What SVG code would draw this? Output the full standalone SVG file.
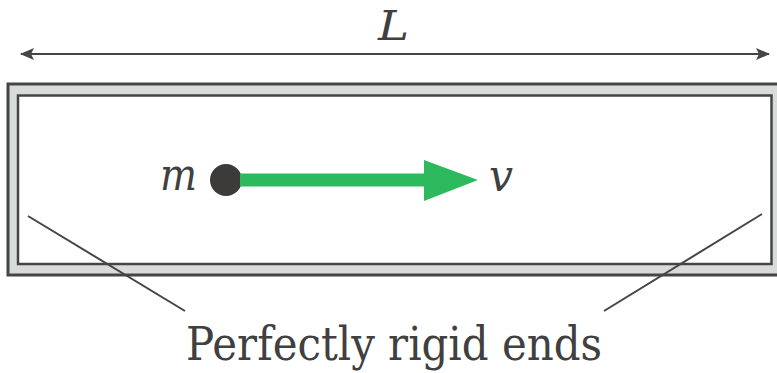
<svg xmlns="http://www.w3.org/2000/svg" width="777" height="373" viewBox="0 0 777 373">
<style>
.ln{stroke:#454545;fill:none}
.tx{font-family:'DejaVu Serif',serif;fill:#404040}
.it{font-style:italic}
</style>
<defs>
<marker id="ah" viewBox="0 0 14 12" refX="13" refY="6" markerWidth="14" markerHeight="12" markerUnits="userSpaceOnUse" orient="auto-start-reverse">
<path d="M0,0 L14,6 L0,12 L3,6 Z" fill="#454545"/>
</marker>
</defs>
<rect width="777" height="373" fill="#fff"/>
<g id="container">
<rect x="8" y="84" width="775" height="191" fill="#d9dada" stroke="#454545" stroke-width="3"/>
<rect x="18" y="95.5" width="753.5" height="168.5" fill="#fff" stroke="#454545" stroke-width="2.5"/>
</g>
<g id="mass">
<circle cx="226" cy="180" r="16" fill="#3d3a3a"/>
<text class="tx it" x="160" y="190" font-size="44" textLength="37" lengthAdjust="spacingAndGlyphs">m</text>
</g>
<g id="velocity">
<path d="M240,173.5 L424,173.5 L424,160 L478,180 L424,201 L424,186.5 L240,186.5 Z" fill="#2dba5f"/>
<text class="tx it" x="489" y="191" font-size="44" textLength="24" lengthAdjust="spacingAndGlyphs">v</text>
</g>
<g id="connectors">
<line class="ln" x1="21" y1="54" x2="769" y2="54" stroke-width="2" marker-start="url(#ah)" marker-end="url(#ah)"/>
<line class="ln" x1="28" y1="216" x2="185" y2="311" stroke-width="2"/>
<line class="ln" x1="762" y1="214" x2="604" y2="311" stroke-width="2"/>
</g>
<g id="labels">
<text class="tx it" x="378" y="40" font-size="41" textLength="31" lengthAdjust="spacingAndGlyphs">L</text>
<text class="tx" x="186" y="360" font-size="47" textLength="416" lengthAdjust="spacingAndGlyphs">Perfectly rigid ends</text>
</g>
</svg>
